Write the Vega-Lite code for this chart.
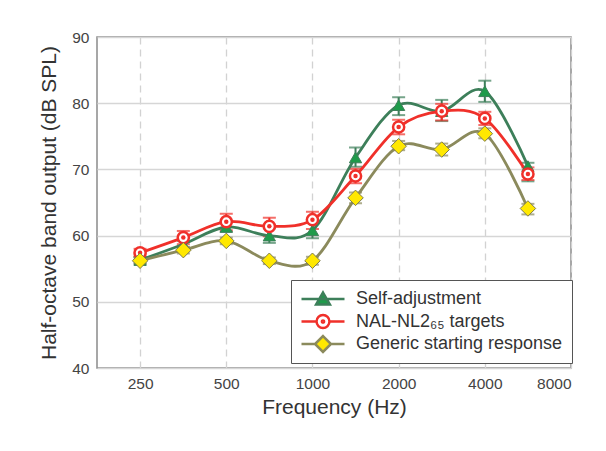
{
  "$schema": "https://vega.github.io/schema/vega-lite/v6.json",
  "width": 474,
  "height": 331,
  "autosize": "none",
  "padding": {"left": 97, "top": 37, "right": 35, "bottom": 83},
  "background": "white",
  "config": {
    "view": {"stroke": "#8a8a8a", "strokeWidth": 1.5},
    "font": "Liberation Sans",
    "axis": {"labelFont": "Liberation Sans", "titleFont": "Liberation Sans", "labelColor": "#444", "titleColor": "#333", "titleFontWeight": "normal", "labelFontSize": 15.5, "titleFontSize": 21, "ticks": false, "domain": false},
    "legend": {
      "orient": "none", "legendX": 194, "legendY": 243,
      "padding": 9, "strokeColor": "#555", "fillColor": "white",
      "symbolSize": 1849, "symbolStrokeWidth": 2.5, "symbolOpacity": 1, "clipHeight": 20, "rowPadding": 2.5,
      "labelOffset": 10, "labelFontSize": 18, "labelFont": "Liberation Sans", "labelColor": "#333", "labelLimit": 400
    }
  },
  "data": {"values": [
    {"freq": 250, "series": "Self-adjustment", "value": 56.3, "lo": 55.8, "hi": 56.8},
    {"freq": 354, "series": "Self-adjustment", "value": 58.7, "lo": 58.2, "hi": 59.2},
    {"freq": 500, "series": "Self-adjustment", "value": 61.3, "lo": 60.6, "hi": 62.1},
    {"freq": 707, "series": "Self-adjustment", "value": 60.0, "lo": 58.9, "hi": 61.1},
    {"freq": 1000, "series": "Self-adjustment", "value": 60.8, "lo": 59.6, "hi": 62.0},
    {"freq": 1414, "series": "Self-adjustment", "value": 71.8, "lo": 70.4, "hi": 73.3},
    {"freq": 2000, "series": "Self-adjustment", "value": 79.7, "lo": 78.2, "hi": 80.9},
    {"freq": 2828, "series": "Self-adjustment", "value": 78.8, "lo": 77.3, "hi": 80.5},
    {"freq": 4000, "series": "Self-adjustment", "value": 81.8, "lo": 80.2, "hi": 83.4},
    {"freq": 5657, "series": "Self-adjustment", "value": 70.5, "lo": 68.2, "hi": 71.0},
    {"freq": 250, "series": "NAL-NL2₆₅ targets", "value": 57.4, "lo": 56.8, "hi": 58.0},
    {"freq": 354, "series": "NAL-NL2₆₅ targets", "value": 59.7, "lo": 58.7, "hi": 60.7},
    {"freq": 500, "series": "NAL-NL2₆₅ targets", "value": 62.1, "lo": 60.8, "hi": 63.3},
    {"freq": 707, "series": "NAL-NL2₆₅ targets", "value": 61.4, "lo": 59.9, "hi": 62.7},
    {"freq": 1000, "series": "NAL-NL2₆₅ targets", "value": 62.4, "lo": 61.0, "hi": 63.6},
    {"freq": 1414, "series": "NAL-NL2₆₅ targets", "value": 69.0, "lo": 67.9, "hi": 70.1},
    {"freq": 2000, "series": "NAL-NL2₆₅ targets", "value": 76.4, "lo": 75.3, "hi": 77.5},
    {"freq": 2828, "series": "NAL-NL2₆₅ targets", "value": 78.8, "lo": 77.4, "hi": 79.9},
    {"freq": 4000, "series": "NAL-NL2₆₅ targets", "value": 77.7, "lo": 76.7, "hi": 78.7},
    {"freq": 5657, "series": "NAL-NL2₆₅ targets", "value": 69.3, "lo": 68.4, "hi": 70.3},
    {"freq": 250, "series": "Generic starting response", "value": 56.2, "lo": 55.7, "hi": 56.7},
    {"freq": 354, "series": "Generic starting response", "value": 57.8, "lo": 57.3, "hi": 58.3},
    {"freq": 500, "series": "Generic starting response", "value": 59.2, "lo": 58.7, "hi": 59.7},
    {"freq": 707, "series": "Generic starting response", "value": 56.2, "lo": 55.7, "hi": 56.7},
    {"freq": 1000, "series": "Generic starting response", "value": 56.2, "lo": 55.6, "hi": 56.8},
    {"freq": 1414, "series": "Generic starting response", "value": 65.7, "lo": 64.9, "hi": 66.5},
    {"freq": 2000, "series": "Generic starting response", "value": 73.5, "lo": 72.9, "hi": 74.3},
    {"freq": 2828, "series": "Generic starting response", "value": 73.0, "lo": 72.1, "hi": 73.9},
    {"freq": 4000, "series": "Generic starting response", "value": 75.4, "lo": 74.7, "hi": 76.2},
    {"freq": 5657, "series": "Generic starting response", "value": 64.1, "lo": 63.2, "hi": 64.8}
  ]},
  "encoding": {
    "x": {"field": "freq", "type": "quantitative",
      "scale": {"type": "log", "domain": [176.78, 8000], "nice": false},
      "axis": {"values": [250, 500, 1000, 2000, 4000, 8000], "format": "d", "grid": true, "gridDash": [7, 5], "gridColor": "#d2d2d2", "gridWidth": 1.3, "labelPadding": 8, "title": "Frequency (Hz)", "titlePadding": 5}}
  },
  "layer": [
    {
      "mark": {"type": "rule", "strokeWidth": 2},
      "encoding": {
        "y": {"field": "lo", "type": "quantitative",
          "scale": {"domain": [40, 90], "nice": false, "zero": false},
          "axis": {"values": [40, 45, 50, 55, 60, 65, 70, 75, 80, 85, 90], "labelExpr": "datum.value % 10 === 0 ? datum.label : ''", "grid": true, "gridColor": "#d6d6d6", "gridWidth": 1.5, "gridDash": {"condition": {"test": "datum.value % 10 === 0", "value": []}, "value": [7, 5]}, "labelPadding": 8, "title": "Half-octave band output (dB SPL)", "titlePadding": 12}},
        "y2": {"field": "hi"},
        "color": {"field": "series", "type": "nominal", "legend": null,
          "scale": {"domain": ["Generic starting response", "NAL-NL2₆₅ targets", "Self-adjustment"], "range": ["#8b8a5c", "#f0302a", "#3d7f5a"]}}
      }
    },
    {
      "mark": {"type": "tick", "orient": "horizontal", "size": 13, "thickness": 2},
      "encoding": {"y": {"field": "lo", "type": "quantitative"}, "color": {"field": "series", "type": "nominal", "legend": null}}
    },
    {
      "mark": {"type": "tick", "orient": "horizontal", "size": 13, "thickness": 2},
      "encoding": {"y": {"field": "hi", "type": "quantitative"}, "color": {"field": "series", "type": "nominal", "legend": null}}
    },
    {
      "mark": {"type": "line", "interpolate": "cardinal", "strokeWidth": 2.8},
      "encoding": {
        "y": {"field": "value", "type": "quantitative"},
        "color": {"field": "series", "type": "nominal", "legend": null}
      }
    },
    {
      "transform": [{"filter": "datum.series === 'Self-adjustment'"}],
      "mark": {"type": "point", "shape": "triangle-up", "filled": true, "fill": "#1e9b4a", "stroke": "#3d7f5a", "strokeWidth": 1, "size": 150, "opacity": 1},
      "encoding": {"y": {"field": "value", "type": "quantitative"}}
    },
    {
      "transform": [{"filter": "datum.series === 'NAL-NL2₆₅ targets'"}],
      "mark": {"type": "point", "shape": "circle", "fill": "white", "stroke": "#f0302a", "strokeWidth": 2.5, "size": 125, "opacity": 1, "filled": true},
      "encoding": {"y": {"field": "value", "type": "quantitative"}}
    },
    {
      "transform": [{"filter": "datum.series === 'NAL-NL2₆₅ targets'"}],
      "mark": {"type": "point", "shape": "circle", "filled": true, "fill": "#f0302a", "strokeWidth": 0, "size": 20, "opacity": 1},
      "encoding": {"y": {"field": "value", "type": "quantitative"}}
    },
    {
      "transform": [{"filter": "datum.series === 'Generic starting response'"}],
      "mark": {"type": "point", "shape": "diamond", "filled": true, "fill": "#ffe800", "stroke": "#7d7b50", "strokeWidth": 1, "size": 240, "opacity": 1},
      "encoding": {"y": {"field": "value", "type": "quantitative"}}
    },
    {
      "mark": {"type": "point", "filled": true, "strokeWidth": 2.5, "opacity": 0},
      "encoding": {
        "y": {"field": "value", "type": "quantitative"},
        "fill": {"field": "series", "type": "nominal", "title": null,
          "scale": {"domain": ["Self-adjustment", "NAL-NL2₆₅ targets", "Generic starting response"], "range": ["#1e9b4a", "#ffffff", "#ffe800"]}},
        "stroke": {"field": "series", "type": "nominal", "title": null,
          "scale": {"domain": ["Self-adjustment", "NAL-NL2₆₅ targets", "Generic starting response"], "range": ["#3d7f5a", "#f0302a", "#8b8a5c"]}},
        "shape": {"field": "series", "type": "nominal", "title": null,
          "scale": {"domain": ["Self-adjustment", "NAL-NL2₆₅ targets", "Generic starting response"], "range": [
            "M-1,0L1,0M0,-0.3L0.32,0.25L-0.32,0.25Z",
            "M-1,0L-0.3,0M0.3,0L1,0M-0.3,0A0.3,0.3 0 1,1 0.3,0A0.3,0.3 0 1,1 -0.3,0ZM-0.05,0A0.05,0.05 0 1,1 0.05,0A0.05,0.05 0 1,1 -0.05,0Z",
            "M-1,0L-0.37,0M0.37,0L1,0M0,-0.37L0.37,0L0,0.37L-0.37,0Z"
          ]}}
      }
    }
  ]
}
